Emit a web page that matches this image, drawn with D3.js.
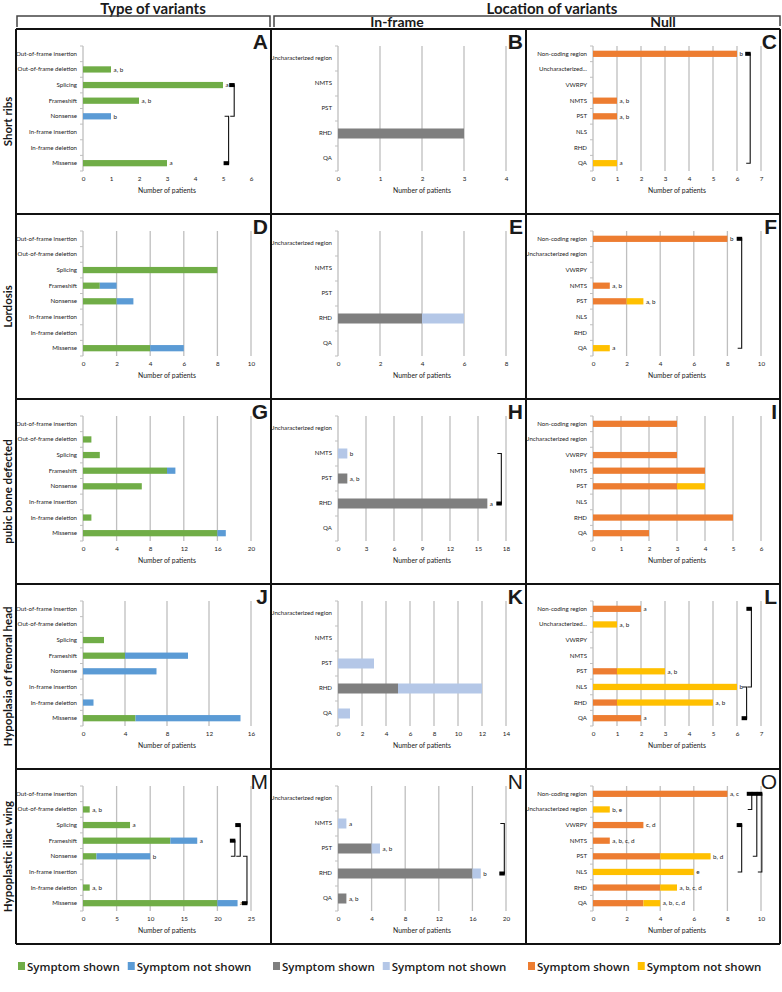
<!DOCTYPE html>
<html>
<head>
<meta charset="utf-8">
<script src="https://cdn.jsdelivr.net/npm/d3@7"></script>
<style>
    body { margin: 0; background: #fff; }
    text { font-family: Lato, "Open Sans", sans-serif; fill: #1a1a1a; }
</style>
</head>
<body>
<div id="chart_container"></div>
<script>
// categories
const typeCats = ["Out-of-frame insertion", "Out-of-frame deletion", "Splicing", "Frameshift",
    "Nonsense", "In-frame insertion", "In-frame deletion", "Missense"];
const inframeCats = ["Uncharacterized region", "NMTS", "PST", "RHD", "QA"];
const nullCats = ["Non-coding region", "Uncharacterized region", "VWRPY", "NMTS", "PST", "NLS", "RHD", "QA"];
const nullCatsShort = ["Non-coding region", "Uncharacterized...", "VWRPY", "NMTS", "PST", "NLS", "RHD", "QA"];
const rowLabels = ["Short ribs", "Lordosis", "pubic bone defected", "Hypoplasia of femoral head", "Hypoplastic iliac wing"];
const panelLetters = ["A", "B", "C", "D", "E", "F", "G", "H", "I", "J", "K", "L", "M", "N", "O"];
const legendLabels = ["Symptom shown", "Symptom not shown"];

// number of patients: symptom shown / symptom not shown, letters next to the bars
const A_shown = [0, 1, 5, 2, 0, 0, 0, 3], A_not = [0, 0, 0, 0, 1, 0, 0, 0];
const A_notes = ["", "a, b", "a", "a, b", "b", "", "", "a"];
const B_shown = [0, 0, 0, 3, 0], B_not = [0, 0, 0, 0, 0];
const C_shown = [6, 0, 0, 1, 1, 0, 0, 0], C_not = [0, 0, 0, 0, 0, 0, 0, 1];
const C_notes = ["b", "", "", "a, b", "a, b", "", "", "a"];

const D_shown = [0, 0, 8, 1, 2, 0, 0, 4], D_not = [0, 0, 0, 1, 1, 0, 0, 2];
const E_shown = [0, 0, 0, 4, 0], E_not = [0, 0, 0, 2, 0];
const F_shown = [8, 0, 0, 1, 2, 0, 0, 0], F_not = [0, 0, 0, 0, 1, 0, 0, 1];
const F_notes = ["b", "", "", "a, b", "a, b", "", "", "a"];

const G_shown = [0, 1, 2, 10, 7, 0, 1, 16], G_not = [0, 0, 0, 1, 0, 0, 0, 1];
const H_shown = [0, 0, 1, 16, 0], H_not = [0, 1, 0, 0, 0];
const H_notes = ["", "b", "a, b", "a", ""];
const I_shown = [3, 0, 3, 4, 3, 0, 5, 2], I_not = [0, 0, 0, 0, 1, 0, 0, 0];

const J_shown = [0, 0, 2, 4, 0, 0, 0, 5], J_not = [0, 0, 0, 6, 7, 0, 1, 10];
const K_shown = [0, 0, 0, 5, 0], K_not = [0, 0, 3, 7, 1];
const L_shown = [2, 0, 0, 0, 1, 0, 1, 2], L_not = [0, 1, 0, 0, 2, 6, 4, 0];
const L_notes = ["a", "a, b", "", "", "a, b", "b", "a, b", "a"];

const M_shown = [0, 1, 7, 13, 2, 0, 1, 20], M_not = [0, 0, 0, 4, 8, 0, 0, 3];
const M_notes = ["", "a, b", "a", "a", "b", "", "a, b", "a"];
const N_shown = [0, 0, 4, 16, 1], N_not = [0, 1, 1, 1, 0];
const N_notes = ["", "a", "a, b", "b", "a, b"];
const O_shown = [8, 0, 3, 1, 4, 0, 4, 3], O_not = [0, 1, 0, 0, 3, 6, 1, 1];
const O_notes = ["a, c", "b, e", "c, d", "a, b, c, d", "b, d", "e", "a, b, c, d", "a, b, c, d"];

// x axis maximum and tick step per panel
const axisMax = [6, 4, 7, 10, 8, 10, 20, 18, 6, 16, 14, 7, 25, 20, 10];
const axisStep = [1, 1, 1, 2, 2, 2, 4, 3, 1, 4, 2, 1, 5, 4, 2];

// significance brackets: [from category, to category, x value, end with the block]
const A_brackets = [[2, 4, 5.4, "from"], [4, 7, 5.2, "to"]];
const C_brackets = [[0, 7, 6.55, "from"]];
const F_brackets = [[0, 7, 8.85, "from"]];
const H_brackets = [[1, 3, 17.5, "to"]];
const L_brackets = [[0, 5, 6.6, "from"], [5, 7, 6.4, "to"]];
const M_brackets = [[2, 4, 23.4, "from"], [3, 4, 22.6, "from"], [4, 7, 24.4, "to"]];
const N_brackets = [[1, 3, 19.8, "to"]];
const O_brackets = [[0, 1, 9.45, "from"], [2, 5, 8.85, "from"], [0, 4, 9.75, "from"], [0, 5, 10.05, "from"]];

const colColors = [["#70ad47", "#5b9bd5"], ["#7f7f7f", "#b4c7e7"], ["#ed7d31", "#ffc000"]];

const panels = [
    { cats: typeCats, shown: A_shown, not: A_not, notes: A_notes, br: A_brackets, grid: false },
    { cats: inframeCats, shown: B_shown, not: B_not },
    { cats: nullCatsShort, shown: C_shown, not: C_not, notes: C_notes, br: C_brackets },
    { cats: typeCats, shown: D_shown, not: D_not },
    { cats: inframeCats, shown: E_shown, not: E_not },
    { cats: nullCats, shown: F_shown, not: F_not, notes: F_notes, br: F_brackets },
    { cats: typeCats, shown: G_shown, not: G_not },
    { cats: inframeCats, shown: H_shown, not: H_not, notes: H_notes, br: H_brackets },
    { cats: nullCats, shown: I_shown, not: I_not },
    { cats: typeCats, shown: J_shown, not: J_not },
    { cats: inframeCats, shown: K_shown, not: K_not },
    { cats: nullCatsShort, shown: L_shown, not: L_not, notes: L_notes, br: L_brackets },
    { cats: typeCats, shown: M_shown, not: M_not, notes: M_notes, br: M_brackets },
    { cats: inframeCats, shown: N_shown, not: N_not, notes: N_notes, br: N_brackets },
    { cats: nullCats, shown: O_shown, not: O_not, notes: O_notes, br: O_brackets }
];

// grid of panels
const colX = [16, 271, 526, 780];
const rowY = [29, 214, 399, 584, 769, 944];

const svg = d3.select("#chart_container")
    .append("svg")
    .attr("width", 782)
    .attr("height", 992);

function drawPanel(p, i) {
    const col = i % 3, row = Math.floor(i / 3);
    const left = colX[col], top = rowY[row];
    const plotX = left + 67, plotW = 168, plotY = top + 17, plotH = 125;
    const max = axisMax[i], step = axisStep[i];
    const ticks = d3.range(0, max + step / 2, step);
    const g = svg.append("g");

    const x = d3.scaleLinear()
        .domain([0, max])
        .range([plotX, plotX + plotW]);
    const y = d3.scaleBand()
        .domain(d3.range(p.cats.length))
        .range([plotY, plotY + plotH])
        .paddingInner(0.6)
        .paddingOuter(0.3);

    // gridlines
    if (p.grid !== false) {
        g.selectAll(".grid")
            .data(ticks.filter(t => t > 0))
            .enter()
            .append("line")
            .attr("x1", d => x(d)).attr("x2", d => x(d))
            .attr("y1", plotY).attr("y2", plotY + plotH)
            .attr("stroke", "#bfbfbf")
            .attr("stroke-width", 1.3);
    }

    // category axis with little ticks between the categories
    g.append("line")
        .attr("x1", x(0)).attr("x2", x(0))
        .attr("y1", plotY).attr("y2", plotY + plotH)
        .attr("stroke", "#bfbfbf")
        .attr("stroke-width", 1.3);
    g.selectAll(".cattick")
        .data(d3.range(p.cats.length + 1))
        .enter()
        .append("line")
        .attr("x1", x(0) - 3).attr("x2", x(0))
        .attr("y1", d => plotY + d * y.step()).attr("y2", d => plotY + d * y.step())
        .attr("stroke", "#bfbfbf");

    const yAxis = g.append("g")
        .attr("transform", `translate(${x(0)}, 0)`)
        .call(d3.axisLeft(y).tickSize(0).tickPadding(6).tickFormat(d => p.cats[d]));
    yAxis.select(".domain").remove();
    yAxis.selectAll("text")
        .style("font-family", "Lato, sans-serif")
        .style("font-size", "6.1px")
        .attr("fill", "#111");

    const xAxis = g.append("g")
        .attr("transform", `translate(0, ${plotY + plotH + 3})`)
        .call(d3.axisBottom(x).tickValues(ticks).tickSize(0).tickFormat(d3.format("d")));
    xAxis.select(".domain").remove();
    xAxis.selectAll("text")
        .style("font-family", "Lato, sans-serif")
        .style("font-size", "6.3px")
        .attr("fill", "#1a1a1a");

    g.append("text")
        .attr("x", plotX + plotW / 2)
        .attr("y", plotY + plotH + 22)
        .attr("text-anchor", "middle")
        .style("font-size", "6.8px")
        .text("Number of patients");

    // stacked bars
    const rows = p.cats.map((c, k) => ({ k: k, s: p.shown[k], n: p.not[k] }));
    g.selectAll(".shown")
        .data(rows.filter(d => d.s > 0))
        .enter()
        .append("rect")
        .attr("x", x(0))
        .attr("y", d => y(d.k))
        .attr("width", d => x(d.s) - x(0))
        .attr("height", y.bandwidth())
        .attr("fill", colColors[col][0]);
    g.selectAll(".notshown")
        .data(rows.filter(d => d.n > 0))
        .enter()
        .append("rect")
        .attr("x", d => x(d.s))
        .attr("y", d => y(d.k))
        .attr("width", d => x(d.s + d.n) - x(d.s))
        .attr("height", y.bandwidth())
        .attr("fill", colColors[col][1]);

    if (p.notes) {
        g.selectAll(".note")
            .data(rows.filter(d => p.notes[d.k] !== ""))
            .enter()
            .append("text")
            .attr("x", d => x(d.s + d.n) + 2.5)
            .attr("y", d => y(d.k) + y.bandwidth() / 2)
            .attr("dy", "0.35em")
            .style("font-size", "6.3px")
            .text(d => p.notes[d.k]);
    }

    // brackets
    (p.br || []).forEach(b => {
        const y1 = y(b[0]) + y.bandwidth() / 2, y2 = y(b[1]) + y.bandwidth() / 2, bx = x(b[2]);
        g.append("path")
            .attr("d", `M${bx - 4},${y1}H${bx}V${y2}H${bx - 4}`)
            .attr("fill", "none")
            .attr("stroke", "#111")
            .attr("stroke-width", 1.1);
        const cy = b[3] === "from" ? y1 : y2;
        g.append("rect")
            .attr("x", bx - 5).attr("y", cy - 2)
            .attr("width", 5.5).attr("height", 4)
            .attr("fill", "#000");
    });

    // panel letter
    g.append("text")
        .attr("x", colX[col + 1] - 3)
        .attr("y", top + 20)
        .attr("text-anchor", "end")
        .style("font-family", "'Liberation Sans', Arial, sans-serif")
        .style("font-size", "21px")
        .style("font-weight", row === 4 ? "normal" : "bold")
        .text(panelLetters[i]);
}

panels.forEach(drawPanel);

// panel borders
rowY.forEach(v => {
    svg.append("line")
        .attr("x1", colX[0]).attr("x2", colX[3])
        .attr("y1", v).attr("y2", v)
        .attr("stroke", "#111").attr("stroke-width", 2);
});
colX.forEach(v => {
    svg.append("line")
        .attr("x1", v).attr("x2", v)
        .attr("y1", rowY[0]).attr("y2", rowY[5])
        .attr("stroke", "#111").attr("stroke-width", 2);
});

// row labels
rowLabels.forEach((t, r) => {
    svg.append("text")
        .attr("transform", `translate(11.5, ${(rowY[r] + rowY[r + 1]) / 2}) rotate(-90)`)
        .attr("text-anchor", "middle")
        .style("font-size", "11.5px")
        .style("font-weight", "bold")
        .text(t);
});

// headers
svg.append("text")
    .attr("x", 153).attr("y", 13.5)
    .attr("text-anchor", "middle")
    .style("font-size", "15px").style("font-weight", "bold")
    .text("Type of variants");
svg.append("text")
    .attr("x", 552).attr("y", 13.5)
    .attr("text-anchor", "middle")
    .style("font-size", "15px").style("font-weight", "bold")
    .text("Location of variants");
svg.append("path")
    .attr("d", "M17,27V16H270V27")
    .attr("fill", "none").attr("stroke", "#444").attr("stroke-width", 1.5);
svg.append("path")
    .attr("d", "M274,27V16H780V26")
    .attr("fill", "none").attr("stroke", "#444").attr("stroke-width", 1.5);

[["In-frame", 397], ["Null", 663]].forEach(h => {
    const t = svg.append("text")
        .attr("x", h[1]).attr("y", 27)
        .attr("text-anchor", "middle")
        .style("font-size", "14px").style("font-weight", "bold")
        .text(h[0]);
    const bb = t.node().getBBox();
    svg.append("line")
        .attr("x1", bb.x).attr("x2", bb.x + bb.width)
        .attr("y1", 29).attr("y2", 29)
        .attr("stroke", "#111").attr("stroke-width", 1.3);
});

// legend
colColors.forEach((cc, c) => {
    let lx = colX[c] + 2;
    cc.forEach((color, k) => {
        svg.append("rect")
            .attr("x", lx).attr("y", 962)
            .attr("width", 7).attr("height", 8)
            .attr("fill", color);
        const t = svg.append("text")
            .attr("x", lx + 9).attr("y", 971)
            .style("font-family", "'Open Sans', sans-serif")
            .style("font-size", "11.5px")
            .style("font-weight", "600")
            .text(legendLabels[k]);
        lx += 9 + t.node().getComputedTextLength() + 8;
    });
});
</script>
</body>
</html>
